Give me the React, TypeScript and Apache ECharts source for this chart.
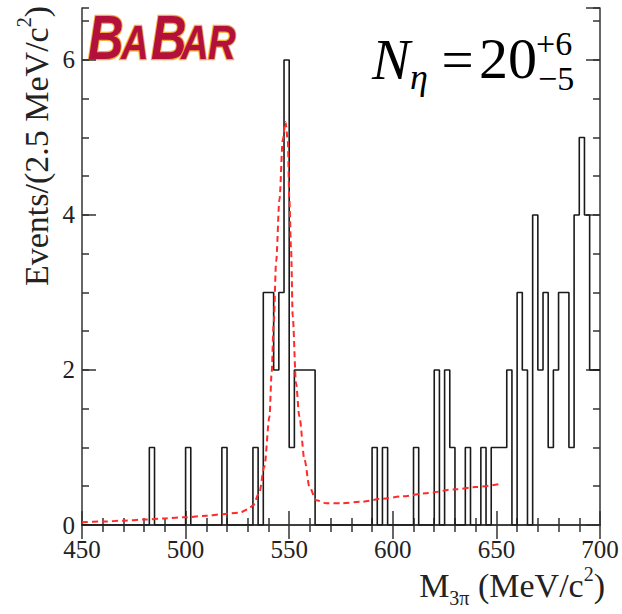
import React, { useEffect, useRef } from 'react';
import * as echarts from 'echarts';

const X_MIN = 450;
const X_MAX = 700;
const BIN_WIDTH = 2.5;
const Y_MAX = 6.67;

// Events per 2.5 MeV bin, 450 -> 700 MeV/c^2
const binCounts = [
  0, 0, 0, 0, 0, 0, 0, 0, 0, 0,
  0, 0, 0, 1, 0, 0, 0, 0, 0, 0,
  1, 0, 0, 0, 0, 0, 0, 1, 0, 0,
  0, 0, 0, 1, 0, 3, 3, 2, 3, 6,
  1, 2, 2, 2, 2, 0, 0, 0, 0, 0,
  0, 0, 0, 0, 0, 0, 1, 0, 1, 0,
  0, 0, 0, 0, 1, 0, 0, 0, 2, 0,
  2, 1, 0, 0, 1, 0, 0, 1, 0, 1,
  1, 1, 2, 0, 3, 2, 0, 4, 2, 3,
  1, 2, 3, 3, 1, 4, 5, 4, 2, 2,
];

// Fit curve (red dashed)
const fitMass = [
  450, 460, 470, 480, 490, 500, 510, 518, 526, 530, 532.5, 535.5, 538, 540.5,
  541.5, 542.5, 543.7, 545.3, 546.9, 548.2, 549.3, 550.1, 550.9, 551.7, 553.3,
  554.9, 557.4, 559.8, 563, 568, 575, 585, 595, 605, 616, 630, 640, 652,
];
const fitValue = [
  0.035, 0.045, 0.055, 0.07, 0.085, 0.1, 0.12, 0.14, 0.16, 0.2, 0.25, 0.41, 0.75, 1.4,
  1.95, 2.6, 3.4, 4.2, 4.97, 5.2, 4.97, 4.19, 3.55, 2.69, 1.83,
  1.4, 0.84, 0.49, 0.32, 0.28, 0.28, 0.3, 0.34, 0.37, 0.41, 0.46, 0.49, 0.53,
];

const xTickStep = 50;
const yTickStep = 2;

const SERIF = "'Liberation Serif', 'Times New Roman', serif";
const FRAME = '#333';

export default function App() {
  const ref = useRef<HTMLDivElement>(null);
  useEffect(() => {
    if (!ref.current) return;
    const chart = echarts.init(ref.current, undefined, { renderer: 'svg' });

    const histData: number[][] = binCounts.map((c, i) => [X_MIN + i * BIN_WIDTH, c]);
    histData.push([X_MAX, binCounts[binCounts.length - 1]]);
    const fitData = fitMass.map((m, i) => [m, fitValue[i]]);

    const tickStyle = { lineStyle: { color: FRAME, width: 1.5 } };
    const tickRich = { t: { fontFamily: SERIF, fontSize: 25, color: '#222' } };
    const xAxisBase = (pos: 'top' | 'bottom', labels: boolean) => ({
      type: 'value' as const,
      position: pos,
      min: X_MIN,
      max: X_MAX,
      interval: xTickStep,
      axisLine: { show: true, lineStyle: { color: FRAME, width: 1.5 } },
      axisTick: { show: true, inside: true, length: 14, ...tickStyle },
      minorTick: { show: true, splitNumber: 5, length: 7, ...tickStyle },
      splitLine: { show: false },
      axisLabel: {
        show: labels,
        fontFamily: SERIF,
        fontSize: 25,
        color: '#222',
        margin: 12,
        formatter: (v: number) => `{t|${v}}`,
        rich: tickRich,
      },
    });
    const yAxisMajor = (pos: 'left' | 'right', labels: boolean) => ({
      type: 'value' as const,
      position: pos,
      min: 0,
      max: Y_MAX,
      interval: yTickStep,
      axisLine: { show: true, lineStyle: { color: FRAME, width: 1.5 } },
      axisTick: { show: true, inside: true, length: 14, ...tickStyle },
      splitLine: { show: false },
      axisLabel: {
        show: labels,
        showMaxLabel: false,
        fontFamily: SERIF,
        fontSize: 25,
        color: '#222',
        margin: 7,
        formatter: (v: number) =>
          Math.abs(v / yTickStep - Math.round(v / yTickStep)) < 1e-6 ? `{t|${v}}` : '',
        rich: tickRich,
      },
    });
    const yAxisMinor = (pos: 'left' | 'right') => ({
      type: 'value' as const,
      position: pos,
      min: 0,
      max: Y_MAX,
      interval: 0.5,
      axisLine: { show: false },
      axisTick: { show: true, inside: true, length: 7, ...tickStyle },
      splitLine: { show: false },
      axisLabel: { show: false },
    });

    const logoLetter = (t: string, x: number, big: boolean) => ({
      type: 'text',
      x,
      y: big ? 37 : 42,
      scaleX: 0.78,
      style: {
        text: t,
        font: `italic bold ${big ? 63 : 49}px 'Liberation Sans', Arial, sans-serif`,
        fill: '#b3103c',
        stroke: '#f2ac3c',
        lineWidth: 2.5,
        textAlign: 'left',
        align: 'left',
        textVerticalAlign: 'middle',
        verticalAlign: 'middle',
      },
    });
    const formulaText = (t: string, x: number, y: number, size: number, italic: boolean, align = 'left') => ({
      type: 'text',
      x,
      y,
      style: {
        text: t,
        font: `${italic ? 'italic ' : ''}${size}px ${SERIF}`,
        fill: '#000',
        textAlign: align,
        align,
        textVerticalAlign: 'middle',
        verticalAlign: 'middle',
      },
    });

    const richLabel = {
      a: { fontSize: 34, fontFamily: SERIF, fill: '#222', lineHeight: 44 },
      sub: { fontSize: 20, fontFamily: SERIF, fill: '#222', verticalAlign: 'bottom' },
      sup: { fontSize: 20, fontFamily: SERIF, fill: '#222', verticalAlign: 'top' },
    };

    chart.setOption({
      animation: false,
      backgroundColor: '#fff',
      textStyle: { fontFamily: SERIF },
      grid: { left: 82, right: 22, top: 8, bottom: 89, containLabel: false },
      xAxis: [xAxisBase('bottom', true), xAxisBase('top', false)],
      yAxis: [yAxisMajor('left', true), yAxisMinor('left'), yAxisMajor('right', false), yAxisMinor('right')],
      series: [
        {
          type: 'line',
          name: 'data',
          xAxisIndex: 0,
          yAxisIndex: 0,
          step: 'end',
          data: histData,
          showSymbol: false,
          symbol: 'none',
          lineStyle: { color: '#1a1a1a', width: 1.6 },
          z: 3,
        },
        {
          type: 'line',
          name: 'fit',
          xAxisIndex: 0,
          yAxisIndex: 0,
          data: fitData,
          smooth: 0.3,
          smoothMonotone: 'x',
          showSymbol: false,
          symbol: 'none',
          lineStyle: { color: '#ff2a2a', width: 2, type: [6, 4] },
          z: 4,
        },
      ],
      graphic: [
        logoLetter('B', 88, true),
        logoLetter('A', 121, false),
        logoLetter('B', 151, true),
        logoLetter('A', 181, false),
        logoLetter('R', 208, false),
        formulaText('N', 372, 59, 57, true),
        formulaText('η', 410, 77, 36, true),
        formulaText('=', 457.5, 59, 57, false, 'center'),
        formulaText('20', 479, 58.5, 58, false),
        formulaText('+6', 536, 43.5, 34, false),
        formulaText('−5', 538, 78.5, 34, false),
        {
          type: 'text',
          x: 605,
          y: 585.5,
          style: {
            text: '{a|M}{sub|3π}{a| (MeV/c}{sup|2}{a|)}',
            rich: richLabel,
            textAlign: 'right',
            align: 'right',
            textVerticalAlign: 'middle',
            verticalAlign: 'middle',
          },
        },
        {
          type: 'text',
          x: 36,
          y: 146,
          rotation: Math.PI / 2,
          style: {
            text: '{a|Events/(2.5 MeV/c}{sup|2}{a|)}',
            rich: richLabel,
            textAlign: 'center',
            align: 'center',
            textVerticalAlign: 'middle',
            verticalAlign: 'middle',
          },
        },
      ],
    });
    return () => chart.dispose();
  }, []);
  return (
    <div
      ref={ref}
      style={{ position: 'fixed', left: 0, top: 0, width: 622, height: 614, background: '#fff' }}
    />
  );
}
